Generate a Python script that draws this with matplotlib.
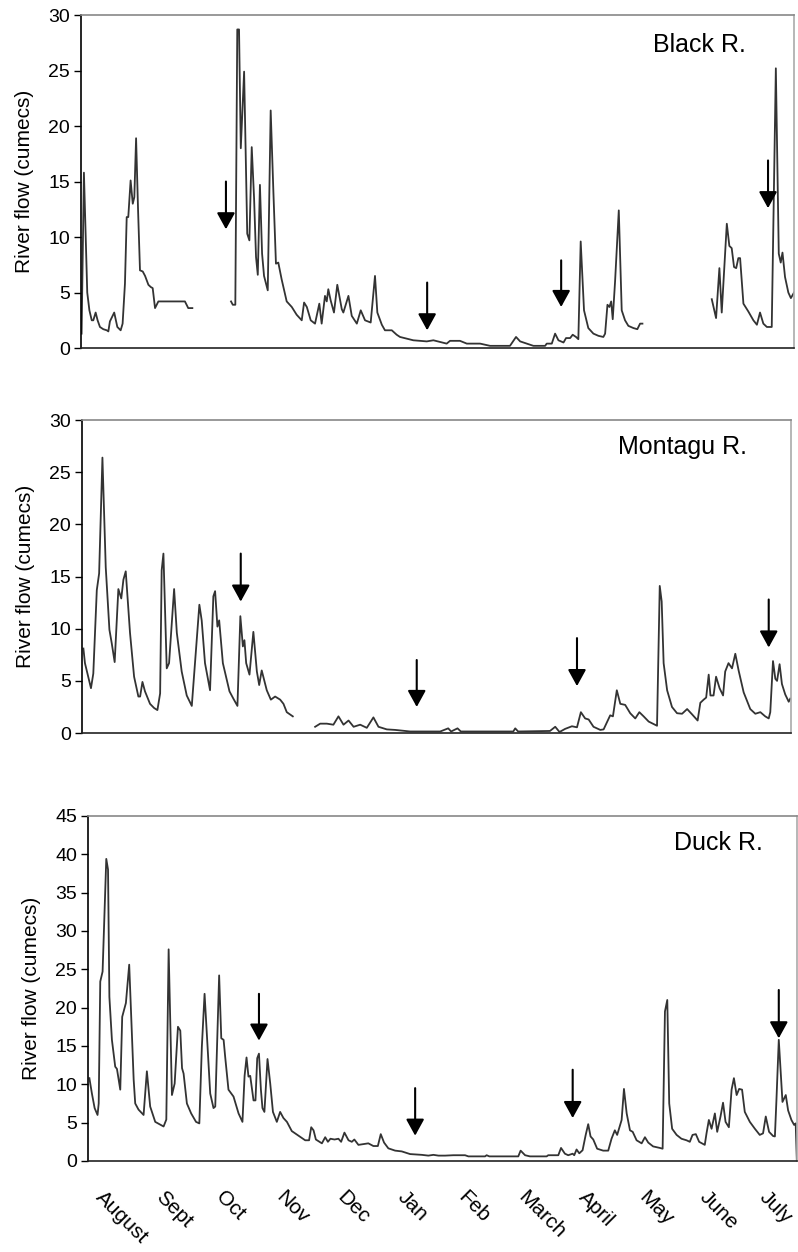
import matplotlib
matplotlib.use("Agg")
import matplotlib.pyplot as plt
import numpy as np

plt.rcParams['font.family'] = ['Liberation Sans', 'DejaVu Sans']

nan = np.nan

# days since 1 August, flow in cumecs (nan = missing record)
black_day = [0.3, 1.5, 3.2, 4.3, 5.5, 6.3, 7.5, 8.5, 9.7, 11.4, 13.2, 14.0, 14.8, 17.0, 18.6,
             20.3, 21.3, 22.5, 23.4, 24.2, 25.4, 26.5, 27.3, 28.2, 29.2, 30.2, 31.6, 32.8, 34.5,
             35.7, 36.7, 37.9, 39.6, 53.2, 54.9, 57.0, 60.0,
             76.8, 77.7, 79.0, 80.0, 80.9, 81.8, 83.5, 85.1, 86.2, 87.4, 88.6, 89.6, 90.5, 91.6,
             92.7, 93.7, 95.6, 97.1, 98.5, 99.8, 101.0, 102.7, 105.3, 107.9, 110.4, 113.0, 114.2,
             115.6, 117.6, 119.8, 122.0, 123.2, 124.9, 125.8, 126.6, 127.8, 129.5, 131.2, 133.5,
             134.3, 136.9, 138.6, 141.2, 143.2, 145.4, 148.3, 150.5, 151.7, 154.0, 155.6, 159.1,
             161.6, 163.3, 170.1, 177.0, 180.4, 187.2, 188.9, 194.0, 197.5, 204.3, 209.4, 219.6,
             222.7, 224.8, 228.2, 231.6, 237.6, 238.4, 241.0, 242.7, 244.4, 247.0, 248.3, 250.4,
             251.7, 253.4, 254.6, 255.8, 257.5, 259.7, 262.3, 264.9, 267.4, 268.3, 269.5, 270.5,
             271.4, 272.2, 273.4, 275.3, 276.8, 278.5, 280.2, 282.8, 284.8, 286.2, 287.4, 300.0,
             322.9, 325.1, 326.8, 328.0, 330.6, 331.9, 333.1, 334.3, 335.4, 336.5, 337.4, 339.1,
             341.6, 344.2, 346.0, 347.6, 349.3, 351.1, 353.6, 355.7, 357.2, 358.2, 359.1, 360.4,
             362.1, 363.4, 365.0]
black_flow = [1.3, 15.8, 5.0, 3.4, 2.5, 2.5, 3.2, 2.5, 1.9, 1.7, 1.6, 1.5, 2.4, 3.2, 1.9,
              1.6, 2.2, 5.8, 11.8, 11.8, 15.1, 13.0, 13.6, 18.9, 12.5, 7.0, 6.9, 6.5, 5.7,
              5.5, 5.4, 3.6, 4.2, 4.2, 3.6, 3.6, nan,
              4.2, 3.9, 3.9, 28.7, 28.7, 18.0, 24.9, 10.3, 9.7, 18.1, 13.5, 8.2, 6.6, 14.7,
              8.5, 6.5, 5.2, 21.4, 14.0, 7.6, 7.7, 6.2, 4.2, 3.7, 3.0, 2.5, 4.1,
              3.7, 2.5, 2.2, 4.0, 2.2, 4.7, 4.2, 5.3, 4.3, 3.2, 5.7, 3.5,
              3.2, 4.7, 2.9, 2.2, 3.4, 2.5, 2.3, 6.5, 3.2, 2.1, 1.6, 1.6,
              1.2, 1.0, 0.7, 0.6, 0.7, 0.4, 0.65, 0.65, 0.4, 0.4, 0.2, 0.2,
              1.0, 0.6, 0.4, 0.2, 0.2, 0.4, 0.4, 1.3, 0.7, 0.5, 0.9, 0.9,
              1.2, 1.0, 0.8, 9.6, 3.4, 1.8, 1.3, 1.1, 1.0, 1.3, 3.9, 3.7,
              4.2, 2.6, 6.0, 12.4, 3.4, 2.5, 2.0, 1.8, 1.7, 2.2, 2.2, nan,
              4.4, 2.7, 7.2, 3.2, 11.2, 9.2, 9.0, 7.3, 7.2, 8.1, 8.1, 4.0,
              3.3, 2.5, 2.1, 3.2, 2.2, 1.9, 1.9, 25.2, 8.5, 7.7, 8.6, 6.4,
              5.0, 4.5, 5.0]

montagu_day = [0.7, 1.5, 3.2, 4.6, 5.8, 7.6, 8.8, 10.5, 12.2, 14.1, 15.3, 16.8, 18.7, 20.2,
               21.3, 22.5, 24.7, 26.8, 29.0, 29.9, 31.1, 32.4, 35.0, 37.1, 38.8, 40.2, 41.0,
               41.9, 43.6, 44.8, 47.4, 48.8, 51.3, 53.9, 56.5, 60.4, 61.6, 63.3, 65.9, 67.6,
               68.5, 69.7, 70.6, 72.5, 75.9, 77.9, 80.0, 81.5, 82.8, 83.6, 84.5, 86.2, 88.2,
               90.0, 91.2, 92.5, 95.1, 97.2, 99.4, 102.0, 103.7, 105.4, 108.5, 114.0,
               120.0, 122.6, 126.0, 129.4, 132.0, 134.6, 137.2, 139.8, 143.2, 146.6, 150.0,
               152.6, 156.9, 161.2, 168.9, 184.4, 188.5, 190.0, 193.3, 195.0, 222.0, 223.0,
               224.5, 240.9, 243.6, 245.8, 248.7, 252.2, 254.8, 256.8, 259.0, 260.8, 263.3,
               266.8, 268.5, 271.9, 273.3, 275.3, 277.1, 279.6, 282.2, 284.8, 286.9, 289.1,
               291.7, 296.0, 297.4, 298.4, 299.4, 301.2, 303.7, 306.3, 308.9, 311.5, 314.0,
               316.9, 318.3, 320.0, 321.3, 322.6, 323.5, 325.1, 326.4, 328.2, 330.0, 331.1,
               332.8, 334.6, 336.3, 338.0, 340.6, 344.0, 346.6, 349.2, 351.7, 353.5, 354.3,
               355.7, 356.9, 357.8, 359.1, 360.3, 362.0, 363.8, 364.6]
montagu_flow = [8.1, 6.7, 5.4, 4.3, 5.7, 13.7, 15.3, 26.4, 15.9, 9.9, 8.6, 6.8, 13.8, 12.9,
                14.7, 15.5, 9.6, 5.4, 3.5, 3.5, 4.9, 4.0, 2.8, 2.4, 2.2, 3.8, 15.6,
                17.2, 6.2, 6.7, 13.8, 9.6, 5.9, 3.6, 2.6, 12.3, 10.8, 6.7, 4.1, 13.1,
                13.6, 10.2, 10.8, 6.7, 4.0, 3.3, 2.6, 11.2, 8.3, 8.9, 6.7, 5.6, 9.7,
                5.9, 4.6, 6.0, 4.1, 3.2, 3.5, 3.2, 2.8, 2.0, 1.6, nan,
                0.6, 0.9, 0.9, 0.8, 1.6, 0.8, 1.2, 0.6, 0.8, 0.5, 1.5,
                0.6, 0.35, 0.3, 0.15, 0.15, 0.45, 0.15, 0.45, 0.15, 0.15, 0.45,
                0.15, 0.2, 0.6, 0.1, 0.4, 0.65, 0.55, 2.0, 1.4, 1.3, 0.6,
                0.3, 0.35, 1.7, 1.6, 4.1, 2.8, 2.7, 1.9, 1.4, 2.0, 1.6,
                1.1, 0.7, 14.1, 12.6, 6.7, 4.1, 2.5, 1.9, 1.85, 2.3, 1.8,
                1.2, 2.9, 3.2, 3.4, 5.6, 3.6, 3.6, 5.4, 4.3, 3.6, 5.9,
                6.7, 6.2, 7.6, 6.0, 3.9, 2.3, 1.85, 2.0, 1.6, 1.4, 2.0,
                6.9, 5.2, 5.0, 6.6, 4.7, 3.7, 3.0, 3.3]

duck_day = [0.7, 2.0, 3.4, 4.9, 5.5, 6.3, 7.5, 9.4, 10.3, 11.0, 12.3, 14.0, 14.9, 16.6, 17.6,
            19.5, 21.2, 23.5, 24.3, 26.0, 28.6, 30.3, 32.0, 34.6, 38.9, 40.3, 41.5, 43.2, 44.6,
            46.3, 47.5, 48.4, 49.2, 50.9, 53.1, 55.6, 57.3, 58.6, 60.0, 62.9, 64.6, 65.5, 67.5,
            68.6, 69.8, 70.6, 72.3, 74.9, 77.5, 79.5, 80.6, 81.6, 82.6, 83.5, 85.2, 86.2, 87.1,
            88.0, 89.0, 89.8, 90.8, 92.4, 93.8, 95.2, 97.2, 98.9, 100.6, 102.4, 104.9, 108.3,
            111.8, 113.8, 114.9, 116.1, 117.3, 120.4, 122.1, 123.5, 124.8, 126.9, 128.9, 130.3,
            132.0, 134.1, 135.8, 137.1, 139.2, 141.8, 144.3, 146.9, 149.2, 150.7, 152.4, 154.6,
            158.1, 161.5, 165.8, 171.8, 175.2, 177.8, 180.4, 183.8, 188.1, 194.1, 195.8, 204.4,
            205.2, 206.6, 221.5, 222.7, 225.0, 227.5, 236.1, 236.9, 242.1, 243.5, 245.5, 247.2,
            249.5, 250.3, 251.5, 252.9, 254.6, 256.2, 257.5, 258.7, 260.1, 262.1, 265.2, 267.8,
            269.5, 271.2, 272.4, 274.7, 275.9, 277.3, 279.0, 280.4, 282.4, 285.0, 286.7, 288.4,
            290.9, 294.4, 295.8, 297.0, 298.2, 299.2, 300.7, 303.0, 305.5, 308.1, 309.8, 311.2,
            312.9, 314.6, 317.5, 318.4, 319.6, 321.0, 322.7, 323.9, 325.6, 326.9, 328.2, 329.9,
            331.3, 332.5, 333.9, 335.2, 336.7, 338.1, 340.7, 343.3, 345.8, 347.5, 348.9, 350.6,
            352.7, 353.6, 354.4, 355.6, 357.5, 359.2, 360.4, 362.1, 363.5, 364.3, 364.9]
duck_flow = [10.8, 8.8, 6.9, 6.0, 7.5, 23.4, 24.7, 39.4, 38.0, 21.4, 15.8, 12.3, 12.0, 9.3, 18.8,
             20.6, 25.6, 10.6, 7.5, 6.7, 6.0, 11.7, 7.1, 5.1, 4.5, 5.4, 27.6, 8.6, 10.1,
             17.5, 17.0, 12.1, 11.4, 7.5, 6.2, 5.1, 4.9, 14.9, 21.8, 8.8, 6.9, 7.1, 24.2,
             16.0, 15.8, 13.6, 9.3, 8.4, 6.2, 5.1, 11.1, 13.5, 11.0, 11.1, 7.9, 7.9, 13.4,
             14.0, 9.3, 6.9, 6.4, 13.3, 10.1, 6.4, 5.1, 6.4, 5.6, 5.1, 3.9, 3.3,
             2.7, 2.7, 4.4, 4.0, 2.8, 2.3, 3.1, 2.5, 2.9, 2.8, 2.9, 2.5,
             3.7, 2.7, 2.5, 2.8, 2.1, 2.2, 2.3, 1.95, 1.95, 3.5, 2.4, 1.65,
             1.35, 1.25, 0.9, 0.8, 0.7, 0.8, 0.7, 0.7, 0.75, 0.75, 0.6, 0.6,
             0.75, 0.6, 0.6, 1.35, 0.75, 0.6, 0.6, 0.75, 0.75, 1.7, 0.95, 0.75,
             0.95, 0.75, 1.5, 1.0, 1.4, 3.4, 4.8, 3.2, 2.8, 1.6, 1.35, 1.35,
             2.9, 4.0, 3.4, 5.35, 9.4, 6.2, 4.0, 3.8, 2.7, 2.3, 3.1, 2.4,
             1.9, 1.7, 1.6, 19.5, 21.0, 7.5, 4.2, 3.4, 2.9, 2.7, 2.5, 3.4,
             3.5, 2.5, 2.1, 3.6, 5.35, 4.2, 6.2, 3.8, 5.8, 7.6, 5.1, 4.4,
             9.3, 10.8, 8.6, 9.4, 9.3, 6.4, 5.1, 4.2, 3.4, 3.6, 5.8, 3.8,
             3.25, 3.2, 8.0, 15.8, 7.7, 8.6, 6.6, 5.35, 4.7, 4.9, 0.0]

# arrows: day, tail value, head value
black_arrows = [(74.2, 15.0, 10.7), (177.2, 5.9, 1.6), (245.8, 7.9, 3.7), (351.7, 16.9, 12.6)]
montagu_arrows = [(81.7, 17.2, 12.6), (172.3, 7.0, 2.5), (254.8, 9.1, 4.5), (353.5, 12.8, 8.2)]
duck_arrows = [(88.0, 21.8, 15.7), (168.4, 9.5, 3.3), (249.5, 11.9, 5.6), (355.6, 22.3, 16.0)]

months = ['August', 'Sept', 'Oct', 'Nov', 'Dec', 'Jan', 'Feb', 'March', 'April', 'May',
          'June', 'July']
month_pos = [8.7 + 31.1 * i for i in range(12)]

panels = [
    ('Black R.', black_day, black_flow, black_arrows, 30, [0.1015, 0.7220, 0.8935, 0.2660], (0.933, 0.91)),
    ('Montagu R.', montagu_day, montagu_flow, montagu_arrows, 30, [0.1028, 0.4145, 0.8885, 0.2500], (0.938, 0.914)),
    ('Duck R.', duck_day, duck_flow, duck_arrows, 45, [0.1103, 0.0727, 0.8885, 0.2756], (0.952, 0.922)),
]

fig = plt.figure(figsize=(7.98, 12.52), dpi=100)

for i, (name, day, flow, arrows, ymax, pos, lab) in enumerate(panels):
    ax = fig.add_axes(pos)
    ax.plot(day, flow, color='#333333', lw=1.3)
    for d, tail, tip in arrows:
        ax.annotate('', xy=(d, tip), xytext=(d, tail),
                    arrowprops=dict(arrowstyle='-|>,head_length=1.0,head_width=0.55',
                                    mutation_scale=10, lw=1.5, color='black',
                                    shrinkA=0, shrinkB=0))
    ax.set_xlim(0, 365)
    ax.set_ylim(0, ymax)
    ax.set_yticks(np.arange(0, ymax + 1, 5))
    ax.tick_params(axis='y', labelsize=14, length=5, width=1, direction='out', pad=3)
    ax.set_ylabel('River flow (cumecs)', fontsize=15, labelpad=10)
    ax.text(lab[0], lab[1], name, transform=ax.transAxes, ha='right', va='center', fontsize=18)
    ax.spines['left'].set_color('black')
    ax.spines['bottom'].set_color('#222222')
    ax.spines['top'].set_color('#888888')
    ax.spines['right'].set_color('#aaaaaa')
    for s in ax.spines.values():
        s.set_linewidth(1.2)
    if i < 2:
        ax.set_xticks([])
    else:
        ax.set_xticks(month_pos)
        ax.set_xticklabels(months, rotation=-45, ha='left', va='top',
                           rotation_mode='anchor', fontsize=15)
        ax.tick_params(axis='x', length=0, pad=19)

fig.savefig('out.png', dpi=100)
